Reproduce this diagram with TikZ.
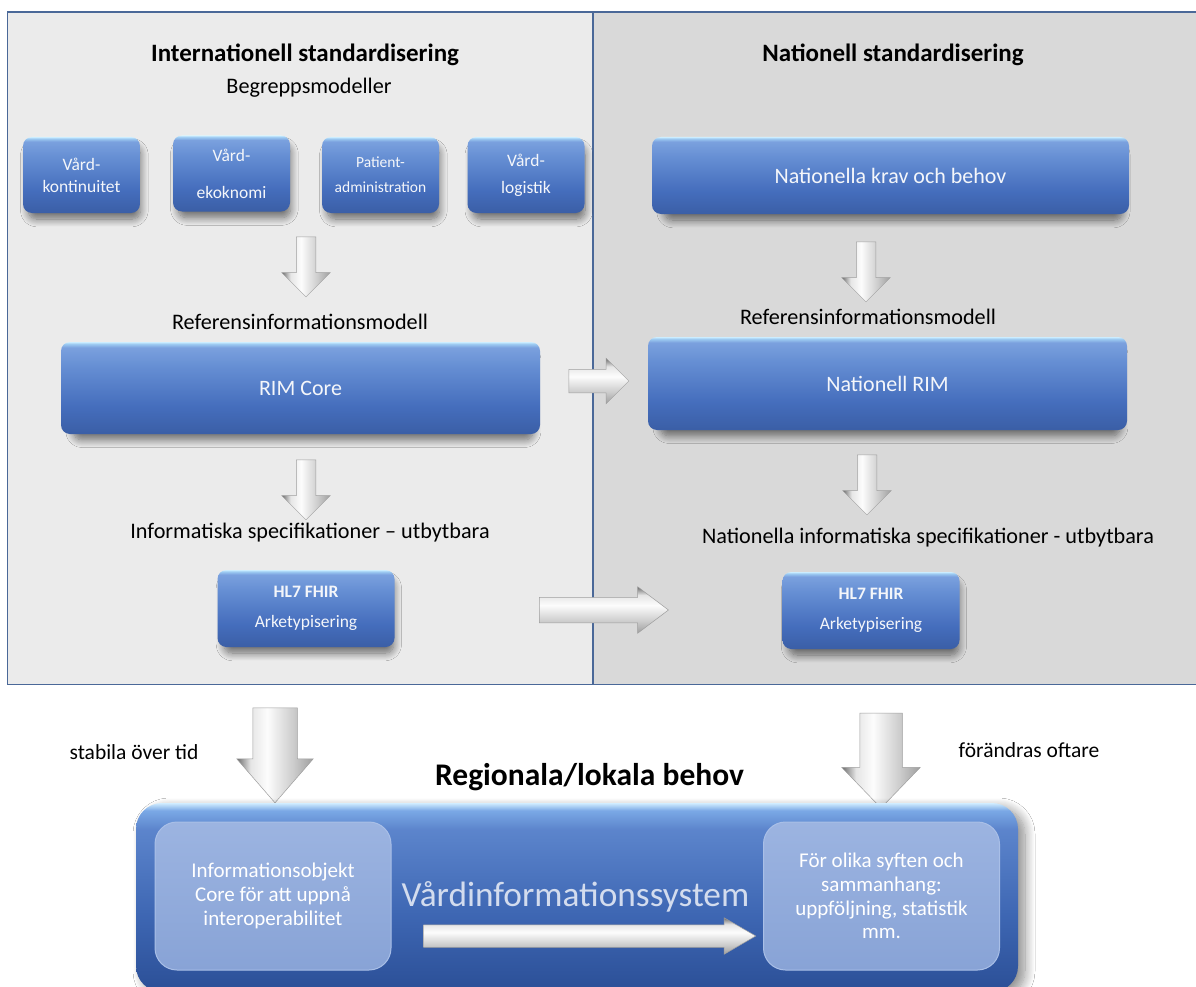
\documentclass[tikz,border=0pt]{standalone}
\usepackage{fontspec}
\setmainfont{Carlito}
\usetikzlibrary{shapes.arrows,shadows.blur}

\definecolor{panelL}{HTML}{EBEBEB}
\definecolor{panelR}{HTML}{D9D9D9}
\definecolor{frameblue}{HTML}{4A6898}
\definecolor{boxtext}{HTML}{F4F6FA}
\definecolor{bigtext}{HTML}{D3DCEE}
\definecolor{innertop}{HTML}{9CB4E1}
\definecolor{innerbot}{HTML}{88A3D6}
\definecolor{inneredge}{HTML}{A9BFE7}

% glossy blue button: dark bottom, lighter top, thin bright top rim
\pgfdeclareverticalshading{bluebox}{100bp}{%
  rgb(0bp)=(0.23,0.37,0.65); rgb(25bp)=(0.23,0.37,0.65);
  rgb(40bp)=(0.27,0.43,0.74); rgb(62bp)=(0.40,0.56,0.83);
  rgb(72bp)=(0.48,0.63,0.87); rgb(74bp)=(0.62,0.80,0.95);
  rgb(75bp)=(0.80,0.93,1.00); rgb(100bp)=(0.80,0.93,1.00)}
% large system panel
\pgfdeclareverticalshading{bigbox}{100bp}{%
  rgb(0bp)=(0.17,0.31,0.59); rgb(25bp)=(0.17,0.31,0.59);
  rgb(45bp)=(0.24,0.40,0.70); rgb(68bp)=(0.36,0.52,0.80);
  rgb(73bp)=(0.48,0.66,0.90); rgb(75bp)=(0.82,0.93,1.00);
  rgb(100bp)=(0.82,0.93,1.00)}
% metallic block arrows
\pgfdeclareverticalshading{silver}{100bp}{%
  rgb(0bp)=(0.62,0.62,0.62); rgb(25bp)=(0.62,0.62,0.62);
  rgb(38bp)=(0.80,0.80,0.80); rgb(55bp)=(0.99,0.99,0.99);
  rgb(66bp)=(0.90,0.90,0.90); rgb(75bp)=(0.42,0.42,0.42);
  rgb(100bp)=(0.42,0.42,0.42)}

\begin{document}
\begin{tikzpicture}[x=1pt,y=-1pt,
  every node/.style={inner sep=0pt},
  frameline/.style={draw=frameblue, line width=1.1pt},
  heading/.style={font=\bfseries\fontsize{25}{30}\selectfont, text=black},
  caption/.style={font=\fontsize{22.2}{26}\selectfont, text=black},
  sidelabel/.style={font=\fontsize{21.5}{26}\selectfont, text=black},
  shadowed/.style={blur shadow={shadow xshift=3pt, shadow yshift=-8pt,
      shadow scale=0.96, shadow blur radius=8pt, shadow blur steps=12,
      shadow opacity=55}},
  bbox/.style={shadowed, rounded corners=9pt, shading=bluebox, text=boxtext,
      align=center, font=\fontsize{22}{26}\selectfont},
  smallbox/.style={bbox, minimum width=117pt, minimum height=76pt,
      font=\fontsize{17.5}{20}\selectfont},
  hlbox/.style={bbox, minimum width=177pt, minimum height=77pt,
      font=\fontsize{17.5}{20}\selectfont},
  bigbox/.style={blur shadow={shadow xshift=7pt, shadow yshift=-5pt,
      shadow blur radius=10pt, shadow blur steps=12, shadow opacity=45},
      rounded corners=26pt, shading=bigbox},
  innerbox/.style={rounded corners=22pt, top color=innertop, bottom color=innerbot,
      draw=inneredge, line width=1pt, text=white, align=center,
      minimum width=236pt, minimum height=148pt,
      font=\fontsize{21}{23.8}\selectfont},
  blockarrow/.style={single arrow, shading=silver, draw=gray!75,
      line width=0.5pt, text height=0pt, text depth=0pt, inner xsep=0pt,
      single arrow head indent=0pt},
  downarrow/.style={blockarrow, rotate=-90, shading angle=90},
]
\clip (0,0) rectangle (1196,987);
\useasboundingbox (0,0) rectangle (1196,987);
\fill[white] (0,0) rectangle (1196,987);

% the two standardisation panels
\fill[panelL] (7.5,12) rectangle (593,684.5);
\fill[panelR] (593,12) rectangle (1196,684.5);
\draw[frameline] (7.5,684.5) -- (7.5,12) -- (1196,12);
\draw[frameline] (593,12) -- (593,684.5);
\draw[frameline] (7.5,684.5) -- (1196,684.5);

% international column
\node[heading] (intl) at (305,55) {Internationell standardisering};
\node[caption] (begrepp) at (309,88) {Begreppsmodeller};
\node[smallbox] (kont) at (81.5,175) {Vård-\\[2pt]kontinuitet};
\node[smallbox] (ekon) at (231.5,173.5) {Vård-\\[17pt]ekoknomi};
\node[smallbox, font=\fontsize{15.5}{18}\selectfont] (patadm) at (380.5,175) {Patient-\\[7pt]administration};
\node[smallbox] (logist) at (526,175) {Vård-\\[7pt]logistik};

\node[downarrow, minimum height=60pt, inner ysep=9.5pt,
      single arrow head extend=14.5pt] (arrA) at (306,262) {};

\node[caption] (refL) at (300,322) {Referensinformationsmodell};
\node[bbox, minimum width=479pt, minimum height=92pt] (rimcore) at (300.5,388) {RIM Core};

\node[downarrow, minimum height=60pt, inner ysep=9.5pt,
      single arrow head extend=14.5pt] (arrB) at (306,485) {};

\node[caption] (specL) at (310,533) {Informatiska specifikationer – utbytbara};
\node[hlbox] (hl7L) at (306,608.5) {\textbf{HL7 FHIR}\\[10pt]Arketypisering};

% national column
\node[heading] (natl) at (893,55) {Nationell standardisering};
\node[bbox, minimum width=477pt, minimum height=77pt] (krav) at (890.5,175.5) {Nationella krav och behov};

\node[downarrow, minimum height=60pt, inner ysep=9.5pt,
      single arrow head extend=14.5pt] (arrC) at (866,267) {};

\node[caption] (refR) at (868,317) {Referensinformationsmodell};
\node[bbox, minimum width=479pt, minimum height=93pt] (natrim) at (887.5,383.5) {Nationell RIM};

\node[downarrow, minimum height=60pt, inner ysep=9.5pt,
      single arrow head extend=14.5pt] (arrD) at (867,480) {};

\node[caption] (specR) at (928,538) {Nationella informatiska specifikationer - utbytbara};
\node[hlbox] (hl7R) at (871,610.5) {\textbf{HL7 FHIR}\\[10pt]Arketypisering};

% hand-over arrows between the columns
\node[blockarrow, minimum height=60pt, inner ysep=11.5pt,
      single arrow head extend=11pt] (arrRIM) at (593,381) {};
\node[blockarrow, minimum height=129pt, inner ysep=12.5pt,
      single arrow head extend=10.5pt, single arrow tip angle=74] (arrSpec) at (595.5,610) {};

% flow down to regional needs
\node[downarrow, minimum height=95pt, inner ysep=22pt,
      single arrow head extend=16pt, single arrow tip angle=82] (arrStab) at (275,742.5) {};
\node[downarrow, minimum height=95pt, inner ysep=21pt,
      single arrow head extend=18pt, single arrow tip angle=88] (arrForand) at (881,749.5) {};
\node[sidelabel] (stab) at (134,752) {stabila över tid};
\node[sidelabel] (forand) at (1029,750) {förändras oftare};
\node[font=\bfseries\fontsize{31.5}{38}\selectfont] (regional) at (589.5,777) {Regionala/lokala behov};

% care information system
\node[bigbox, minimum width=882pt, minimum height=189pt] (vis) at (577,897.5) {};
\node[innerbox] (core) at (273,896) {Informationsobjekt\\Core för att uppnå\\interoperabilitet};
\node[innerbox] (olika) at (881.5,896) {För olika syften och\\sammanhang:\\uppföljning, statistik\\mm.};
\node[font=\fontsize{35.3}{42}\selectfont, text=bigtext] (vistext) at (575.5,897) {Vårdinformationssystem};
\node[blockarrow, minimum height=332pt, inner ysep=11pt,
      single arrow head extend=7pt, single arrow tip angle=60] (arrSys) at (580,936) {};
\end{tikzpicture}
\end{document}
